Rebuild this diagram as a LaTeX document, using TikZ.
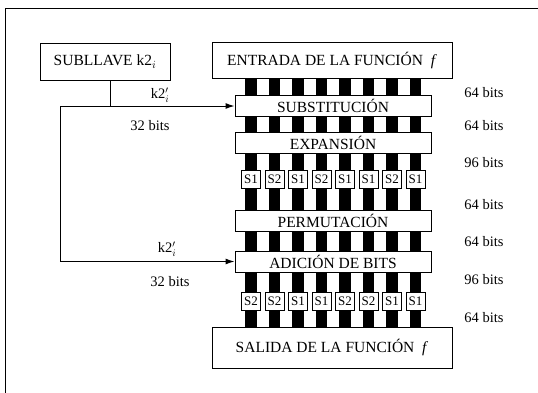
\documentclass[tikz,border=0pt]{standalone}
\usepackage{fontspec}
\setmainfont{Liberation Serif}
\usetikzlibrary{arrows.meta,positioning}

\begin{document}
\begin{tikzpicture}[x=1pt,y=-1pt,
    caja/.style={draw,line width=1pt,fill=white,inner sep=0pt,
      minimum width=196pt,minimum height=21pt,font=\fontsize{15.5}{17}\selectfont},
    cajaext/.style={caja,minimum width=240pt,minimum height=36pt},
    sbox/.style={draw,line width=0.8pt,fill=white,inner sep=0pt,
      minimum width=19pt,minimum height=18pt,font=\fontsize{13}{14}\selectfont},
    bits/.style={font=\fontsize{14.5}{16}\selectfont},
    flecha/.style={line width=1pt,-{Latex[length=9pt,width=6pt]}}]
  \useasboundingbox (0,0) rectangle (538,392);
  \draw[line width=1pt] (5,8) rectangle (600,450);

  % hilos entre etapas
  \foreach \ya/\yb in {78/95,116/133,153/170,188/211,231/251,271/292,310/327}
    \foreach \i in {0,...,7}
      \fill (245.25+\i*23.5,\ya) rectangle (256.75+\i*23.5,\yb);

  \node[cajaext,minimum width=130pt,minimum height=37pt] (subllave) at (105,61.5) {SUBLLAVE k2$_i$};
  \node[cajaext] (entrada) at (332,60.5) {ENTRADA DE LA FUNCIÓN \ \textit{f}};
  \node[caja] (subst) at (333,106) {SUBSTITUCIÓN};
  \node[caja] (expan) at (333,143) {EXPANSIÓN};
  \node[caja] (perm) at (333,221) {PERMUTACIÓN};
  \node[caja] (adic) at (333,261.5) {ADICIÓN DE BITS};
  \node[cajaext,minimum height=41pt] (salida) at (332,347.5) {SALIDA DE LA FUNCIÓN \ \textit{f}};

  % cajas S
  \foreach \t [count=\i from 0] in {S1,S2,S1,S2,S1,S1,S2,S1}
    \node[sbox] (sa\i) at (251+\i*23.5,179) {\t};
  \foreach \t [count=\i from 0] in {S2,S2,S1,S1,S2,S2,S1,S1}
    \node[sbox] (sb\i) at (251+\i*23.5,301) {\t};

  % anchos de bus
  \foreach \y/\t in {93/64,126/64,163/96,205/64,242/64,280/96,318/64}
    \node[bits] (b\y) at (484,\y) {\t\ bits};

  % subclave
  \coordinate (esq) at (60,0);
  \draw[line width=1pt] ([xshift=5pt]subllave.south) -- ([xshift=5pt]subllave.south |- subst.west);
  \draw[flecha] (esq |- subst.west) -- (subst.west);
  \draw[flecha] (esq |- subst.west) -- (esq |- adic.west) -- (adic.west);
  \node[bits] (k2a) at (160,95) {k2$'_i$};
  \node[bits] (n32a) at (150,126) {32 bits};
  \node[bits] (k2b) at (167,249) {k2$'_i$};
  \node[bits] (n32b) at (170,282) {32 bits};
\end{tikzpicture}
\end{document}
